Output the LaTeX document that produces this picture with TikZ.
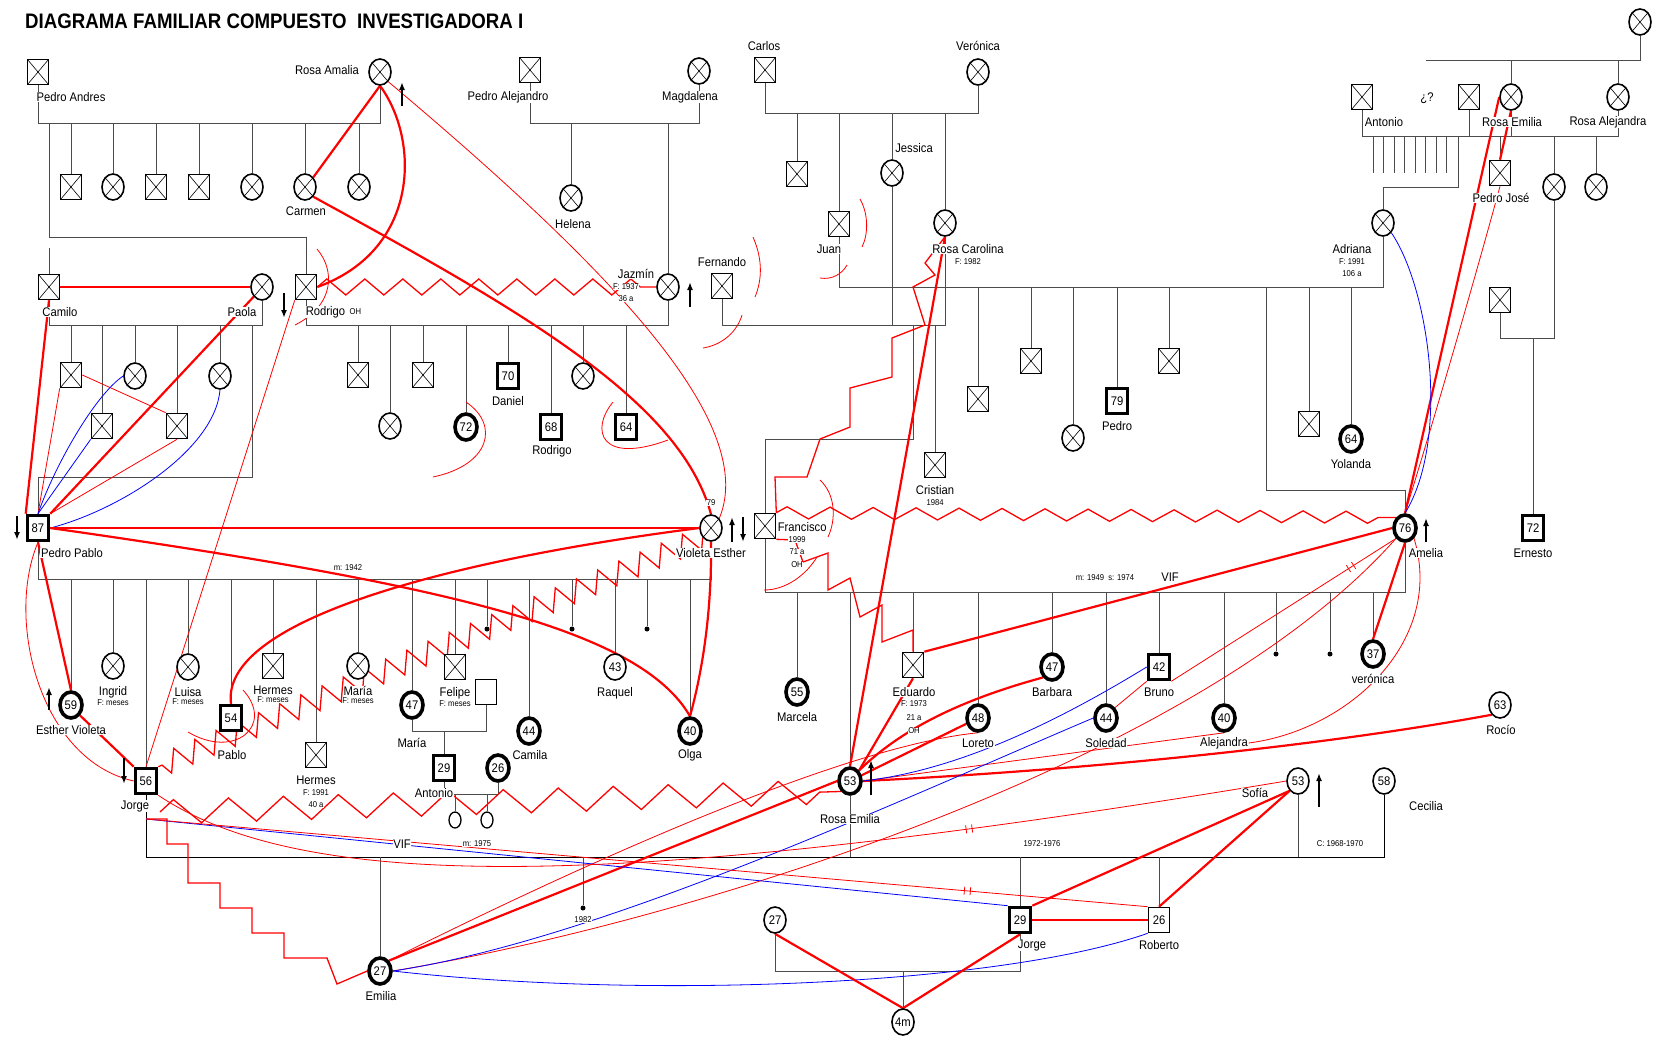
\documentclass[tikz,border=0pt]{standalone}
\usepackage{fontspec}
\setmainfont{Liberation Sans}[FakeStretch=0.9]
\newfontfamily\titulofam{Liberation Sans}[FakeStretch=0.89]
\usetikzlibrary{arrows.meta,calc,positioning,shapes.geometric,decorations.pathmorphing,decorations.markings,backgrounds}

\newcommand\nombrefont{\fontsize{12.5}{13}\selectfont}
\newcommand\datofont{\fontsize{8.5}{9}\selectfont}
\newcommand\numfont{\fontsize{12.5}{13}\selectfont}

\begin{document}
\begin{tikzpicture}[x=1pt, y=-1pt, >=Latex,
    varon/.style={draw, rectangle, fill=white, line width=1.6pt, minimum width=21pt, minimum height=25pt, inner sep=0pt, font=\numfont},
    mujer/.style={draw, ellipse, fill=white, line width=1.6pt, minimum width=22pt, minimum height=26pt, inner sep=0pt, font=\numfont},
    muerto/.style={path picture={\draw[line width=0.6pt] (path picture bounding box.north west) -- (path picture bounding box.south east) (path picture bounding box.south west) -- (path picture bounding box.north east);}},
    grueso/.style={line width=3.6pt},
    punto/.style={circle, fill=black, inner sep=0pt, minimum size=5pt},
    nombre/.style={font=\nombrefont, fill=white, inner sep=0.6pt},
    dato/.style={font=\datofont, fill=white, inner sep=0.4pt},
    fam/.style={draw=black!70, line width=0.9pt},
    hostil/.style={draw=red, line width=2.2pt},
    tenso/.style={draw=red, line width=0.8pt},
    lejano/.style={draw=blue, line width=0.8pt},
    escalera/.style={draw=red, line width=1.3pt},
    choque/.style 2 args={draw=red, line width=1.3pt, decorate, decoration={zigzag, segment length=#1, amplitude=#2}},
    corte/.style={postaction={decorate, decoration={markings, mark=at position #1 with {\draw[red, line width=0.8pt] (-3pt,-4pt) -- (-3pt,4pt) (3pt,-4pt) -- (3pt,4pt);}}}},
    flecha/.style={-{Latex[length=8pt, width=6pt]}, line width=1.6pt},
  ]
  \useasboundingbox (0,0) rectangle (1657,1039);
  \node[anchor=west, inner sep=0pt, font={\titulofam\bfseries\fontsize{21}{21}\selectfont}] (titulo) at (25,21) {DIAGRAMA FAMILIAR COMPUESTO\ \ INVESTIGADORA I};

  % abuelos
  \node[varon, muerto] (pedroandres) at (38,72) {};
  \node[mujer, muerto] (rosaamalia) at (380,72) {};
  \node[varon, muerto] (pedroalejandro) at (530,70) {};
  \node[mujer, muerto] (magdalena) at (699,71) {};
  \node[varon, muerto] (carlos) at (765,70) {};
  \node[mujer, muerto] (veronica) at (978,72) {};
  \node[mujer, muerto] (bisabuela) at (1640,22) {};
  \node[varon, muerto] (antonio) at (1362,97) {};
  \node[varon, muerto] (pareja) at (1469,97) {};
  \node[mujer, muerto] (rosaemilia) at (1511,97) {};
  \node[mujer, muerto] (rosaalejandra) at (1618,97) {};

  % hijos de Pedro Andres y Rosa Amalia
  \node[varon, muerto] (pa1) at (71,187) {};
  \node[mujer, muerto] (pa2) at (113,187) {};
  \node[varon, muerto] (pa3) at (156,187) {};
  \node[varon, muerto] (pa4) at (199,187) {};
  \node[mujer, muerto] (pa5) at (252,187) {};
  \node[mujer, muerto] (carmen) at (305,187) {};
  \node[mujer, muerto] (pa7) at (359,187) {};
  \node[varon, muerto] (camilo) at (49,287) {};
  \node[mujer, muerto] (paola) at (262,287) {};
  \node[varon, muerto] (rodrigo) at (306,287) {};
  \node[mujer, muerto] (helena) at (571,198) {};
  \node[mujer, muerto] (jazmin) at (668,287) {};
  \node[varon, muerto] (fernando) at (722,286) {};
  \node[varon, muerto] (cv1) at (797,174) {};
  \node[varon, muerto] (juan) at (839,224) {};
  \node[mujer, muerto] (jessica) at (892,173) {};
  \node[mujer, muerto] (rosacarolina) at (945,223) {};
  \node[varon, muerto] (pedrojose) at (1500,173) {};
  \node[mujer, muerto] (ra1) at (1554,187) {};
  \node[mujer, muerto] (ra2) at (1596,187) {};
  \node[varon, muerto] (ra3) at (1500,300) {};
  \node[mujer, muerto] (adriana) at (1383,223) {};

  % hijos de Camilo y Paola
  \node[varon, muerto] (cp1) at (71,375) {};
  \node[varon, muerto] (cp2) at (102,426) {};
  \node[mujer, muerto] (cp3) at (135,376) {};
  \node[varon, muerto] (cp4) at (177,426) {};
  \node[mujer, muerto] (cp5) at (220,376) {};

  % hijos de Rodrigo y Jazmin
  \node[varon, muerto] (rj1) at (358,375) {};
  \node[mujer, muerto] (rj2) at (390,426) {};
  \node[varon, muerto] (rj3) at (423,375) {};
  \node[mujer, grueso] (rj4) at (466,427) {72};
  \node[varon, grueso] (daniel) at (508,376) {70};
  \node[varon, grueso] (rodrigob) at (551,427) {68};
  \node[mujer, muerto] (rj7) at (583,376) {};
  \node[varon, grueso] (rj8) at (626,427) {64};

  % hijos de Juan y Adriana
  \node[varon, muerto] (ja1) at (978,399) {};
  \node[varon, muerto] (ja2) at (1031,361) {};
  \node[mujer, muerto] (ja3) at (1073,438) {};
  \node[varon, grueso] (pedro) at (1117,401) {79};
  \node[varon, muerto] (ja5) at (1169,361) {};
  \node[varon, muerto] (ja6) at (1309,424) {};
  \node[mujer, grueso] (yolanda) at (1351,439) {64};
  \node[varon, muerto] (cristian) at (935,465) {};
  \node[varon, grueso] (ernesto) at (1533,528) {72};

  % parejas centrales
  \node[varon, grueso] (pedropablo) at (38,528) {87};
  \node[mujer, muerto] (violeta) at (711,528) {};
  \node[varon, muerto] (francisco) at (765,526) {};
  \node[mujer, grueso] (amelia) at (1405,528) {76};

  % hijos de Pedro Pablo y Violeta Esther
  \node[mujer, grueso] (esther) at (71,705) {59};
  \node[mujer, muerto] (ingrid) at (113,666) {};
  \node[varon, grueso] (jorge) at (146,781) {56};
  \node[mujer, muerto] (luisa) at (188,667) {};
  \node[varon, grueso] (pablo) at (231,718) {54};
  \node[varon, muerto] (hermesa) at (273,666) {};
  \node[varon, muerto] (hermesb) at (316,755) {};
  \node[mujer, muerto] (mariaa) at (358,666) {};
  \node[mujer, grueso] (mariab) at (412,705) {47};
  \node[varon, muerto] (felipe) at (455,667) {};
  \node[varon] (esposo) at (486,692) {};
  \node[punto] (pv1) at (487,629) {};
  \node[mujer, grueso] (camila) at (529,731) {44};
  \node[punto] (pv2) at (572,629) {};
  \node[mujer] (raquel) at (615,667) {43};
  \node[punto] (pv3) at (647,629) {};
  \node[mujer, grueso] (olga) at (690,731) {40};
  \node[varon, grueso] (antoniob) at (444,768) {29};
  \node[mujer, grueso] (nuera) at (498,768) {26};
  \node[mujer, line width=1.3pt, minimum width=12pt, minimum height=16pt] (k1) at (455,820) {};
  \node[mujer, line width=1.3pt, minimum width=12pt, minimum height=16pt] (k2) at (487,820) {};

  % hijos de Francisco y Amelia
  \node[mujer, grueso] (marcela) at (797,692) {55};
  \node[mujer, grueso] (rosaemiliab) at (850,781) {53};
  \node[varon, muerto] (eduardo) at (913,665) {};
  \node[mujer, grueso] (loreto) at (978,718) {48};
  \node[mujer, grueso] (barbara) at (1052,667) {47};
  \node[mujer, grueso] (soledad) at (1106,718) {44};
  \node[varon, grueso] (bruno) at (1159,667) {42};
  \node[mujer, grueso] (alejandra) at (1224,718) {40};
  \node[punto] (fa1) at (1276,654) {};
  \node[punto] (fa2) at (1330,654) {};
  \node[mujer, grueso] (veronicab) at (1373,654) {37};
  \node[mujer] (rocio) at (1500,705) {63};
  \node[mujer] (sofia) at (1298,781) {53};
  \node[mujer] (cecilia) at (1384,781) {58};

  % generacion de Jorge
  \node[mujer, grueso] (emilia) at (380,971) {27};
  \node[punto] (jh1) at (583,908) {};
  \node[varon, grueso] (jorgeb) at (1020,920) {29};
  \node[varon] (roberto) at (1159,920) {26};
  \node[mujer] (pareja27) at (775,920) {27};
  \node[mujer] (bebe) at (903,1022) {4m};
  \coordinate (jorgebase) at (146,819);
  \coordinate (jorgezz) at (160,812);

  % nombres
  \node[nombre] (lpedroandres) at (71,97) {Pedro Andres};
  \node[nombre] (lrosaamalia) at (327,70) {Rosa Amalia};
  \node[nombre] (lcarmen) at (306,211) {Carmen};
  \node[nombre] (lcamilo) at (60,312) {Camilo};
  \node[nombre] (lpaola) at (242,312) {Paola};
  \node[nombre, anchor=west] (lrodrigo) at (305,312) {Rodrigo};
  \node[dato, right=3pt of lrodrigo] (lrodrigooh) {OH};
  \node[nombre] (lpedroalejandro) at (508,97) {Pedro Alejandro};
  \node[nombre] (lmagdalena) at (690,97) {Magdalena};
  \node[nombre] (lhelena) at (573,224) {Helena};
  \node[nombre] (ljazmin) at (636,274) {Jazmín};
  \node[dato] (ljazmin1) at (626,287) {F: 1937};
  \node[dato] (ljazmin2) at (626,299) {36 a};
  \node[nombre] (lfernando) at (722,262) {Fernando};
  \node[nombre] (lcarlos) at (764,46) {Carlos};
  \node[nombre] (lveronica) at (978,46) {Verónica};
  \node[nombre] (ljessica) at (914,148) {Jessica};
  \node[nombre] (ljuan) at (829,249) {Juan};
  \node[nombre] (lrosacarolina) at (968,249) {Rosa Carolina};
  \node[dato] (lrosacarolina1) at (968,262) {F: 1982};
  \node[nombre] (lantonio) at (1384,122) {Antonio};
  \node[nombre] (lduda) at (1427,98) {¿?};
  \node[nombre] (lrosaemilia) at (1512,122) {Rosa Emilia};
  \node[nombre] (lrosaalejandra) at (1608,122) {Rosa Alejandra};
  \node[nombre] (lpedrojose) at (1501,198) {Pedro José};
  \node[nombre] (ladriana) at (1352,249) {Adriana};
  \node[dato] (ladriana1) at (1352,262) {F: 1991};
  \node[dato] (ladriana2) at (1352,274) {106 a};
  \node[nombre] (ldaniel) at (508,401) {Daniel};
  \node[nombre] (lrodrigob) at (552,451) {Rodrigo};
  \node[nombre] (lpedro) at (1117,426) {Pedro};
  \node[nombre] (lyolanda) at (1351,464) {Yolanda};
  \node[nombre] (lcristian) at (935,490) {Cristian};
  \node[dato] (lcristian1) at (935,503) {1984};
  \node[nombre, anchor=west] (lfrancisco) at (777,527) {Francisco};
  \node[dato] (lfrancisco1) at (797,540) {1999};
  \node[dato] (lfrancisco2) at (797,552) {71 a};
  \node[dato] (lfrancisco3) at (797,565) {OH};
  \node[nombre] (lamelia) at (1426,553) {Amelia};
  \node[nombre] (lernesto) at (1533,553) {Ernesto};
  \node[nombre] (lpedropablo) at (72,553) {Pedro Pablo};
  \node[dato] (lvioleta1) at (711,503) {79};
  \node[nombre] (lvioleta) at (711,553) {Violeta Esther};
  \node[dato] (lmatri1) at (348,568) {m: 1942};
  \node[dato] (lmatri2) at (1105,578) {m: 1949\ \ s: 1974};
  \node[nombre] (lvif1) at (1170,577) {VIF};
  \node[nombre] (lesther) at (71,730) {Esther Violeta};
  \foreach \h/\n in {ingrid/Ingrid, luisa/Luisa, hermesa/Hermes, mariaa/María, felipe/Felipe} {
    \node[nombre, below=6pt of \h] (l\h) {\n};
    \node[dato, below=0pt of l\h] (f\h) {F: meses};
  }
  \node[nombre] (lpablo) at (232,755) {Pablo};
  \node[nombre] (lhermesb) at (316,780) {Hermes};
  \node[dato] (lhermesb1) at (316,793) {F: 1991};
  \node[dato] (lhermesb2) at (316,805) {40 a};
  \node[nombre] (lmariab) at (412,743) {María};
  \node[nombre] (lantoniob) at (434,793) {Antonio};
  \node[nombre] (lcamila) at (530,755) {Camila};
  \node[nombre] (lraquel) at (615,693) {Raquel};
  \node[nombre] (lolga) at (690,755) {Olga};
  \node[nombre] (lmarcela) at (797,717) {Marcela};
  \node[nombre] (leduardo) at (914,692) {Eduardo};
  \node[dato] (leduardo1) at (914,704) {F: 1973};
  \node[dato] (leduardo2) at (914,718) {21 a};
  \node[dato] (leduardo3) at (914,731) {OH};
  \node[nombre] (lbarbara) at (1052,692) {Barbara};
  \node[nombre] (lbruno) at (1159,692) {Bruno};
  \node[nombre] (lloreto) at (978,743) {Loreto};
  \node[nombre] (lsoledad) at (1106,743) {Soledad};
  \node[nombre] (lalejandra) at (1224,743) {Alejandra};
  \node[nombre] (lveronicab) at (1373,679) {verónica};
  \node[nombre] (lrocio) at (1501,730) {Rocío};
  \node[nombre] (lrosaemiliab) at (850,819) {Rosa Emilia};
  \node[nombre] (ljorge) at (135,806) {Jorge};
  \node[nombre] (lsofia) at (1255,793) {Sofía};
  \node[nombre] (lcecilia) at (1426,806) {Cecilia};
  \node[dato] (lcasados) at (1340,844) {C: 1968-1970};
  \node[nombre] (lvif2) at (402,844) {VIF};
  \node[dato] (lmatri3) at (477,844) {m: 1975};
  \node[dato] (lperiodo) at (1042,844) {1972-1976};
  \node[dato] (lanio) at (583,920) {1982};
  \node[nombre] (ljorgeb) at (1032,945) {Jorge};
  \node[nombre] (lroberto) at (1159,945) {Roberto};
  \node[nombre] (lemilia) at (381,996) {Emilia};

  % flechas de ingreso / salida
  \draw[flecha] ($(rosaamalia)+(22,34)$) -- ++(0,-24);
  \draw[flecha] ($(rodrigo)+(-22,6)$) -- ++(0,25);
  \draw[flecha] ($(jazmin)+(22,20)$) -- ++(0,-25);
  \draw[flecha] ($(pedropablo)+(-21,-12)$) -- ++(0,24);
  \draw[flecha] ($(violeta)+(21,14)$) -- ++(0,-25);
  \draw[flecha] ($(violeta)+(32,-11)$) -- ++(0,25);
  \draw[flecha] ($(amelia)+(21,14)$) -- ++(0,-24);
  \draw[flecha] ($(esther)+(-22,5)$) -- ++(0,-23);
  \draw[flecha] ($(jorge)+(-22,-23)$) -- ++(0,26);
  \draw[flecha] ($(rosaemiliab)+(21,14)$) -- ++(0,-35);
  \draw[flecha] ($(sofia)+(21,26)$) -- ++(0,-34);

  \begin{scope}[on background layer]
    % lineas de parentesco
    \coordinate (bus1) at (0,123);
    \coordinate (bus2) at (0,325);
    \coordinate (bus3) at (0,113);
    \coordinate (bus4) at (0,287);
    \coordinate (bus5) at (0,136);
    \coordinate (bus6) at (0,60);
    \coordinate (bus7) at (0,579);
    \coordinate (bus8) at (0,731);
    \coordinate (bus9) at (0,794);
    \coordinate (bus10) at (0,592);
    \coordinate (bus11) at (0,857);
    \coordinate (bus12) at (0,971);
    \draw[fam] (pedroandres.south) -- (pedroandres.south |- bus1) -- (rosaamalia.south |- bus1) -- (rosaamalia.south);
    \foreach \h in {pa1,pa2,pa3,pa4,pa5,carmen,pa7}
      \draw[fam] (\h.north) -- (\h.north |- bus1);
    \draw[fam] (49,123) -- (49,237) -| (rodrigo.north);
    \draw[fam] (camilo.north) -- ++(0,-26);
    \draw[fam] (camilo.south) -- (camilo.south |- bus2) -- (paola.south |- bus2) -- (paola.south);
    \foreach \h in {cp1,cp2,cp3,cp4,cp5}
      \draw[fam] (\h.north) -- (\h.north |- bus2);
    \draw[fam] (252,325) -- (252,477) -| (pedropablo.north);
    \draw[fam] (pedroalejandro.south) -- (pedroalejandro.south |- bus1) -- (magdalena.south |- bus1) -- (magdalena.south);
    \draw[fam] (helena.north) -- (helena.north |- bus1);
    \draw[fam] (jazmin.north) -- (jazmin.north |- bus1);
    \draw[fam] (jazmin.south) -- (jazmin.south |- bus2) -- (rodrigo.south |- bus2) -- (rodrigo.south);
    \foreach \h in {rj1,rj2,rj3,rj4,daniel,rodrigob,rj7,rj8}
      \draw[fam] (\h.north) -- (\h.north |- bus2);
    \draw[fam] (carlos.south) -- (carlos.south |- bus3) -- (veronica.south |- bus3) -- (veronica.south);
    \foreach \h in {cv1,juan,jessica,rosacarolina}
      \draw[fam] (\h.north) -- (\h.north |- bus3);
    \draw[fam] (jessica.south) -- (jessica.south |- bus2);
    \draw[fam] (rosacarolina.south) -- (rosacarolina.south |- bus2) -- (fernando.south |- bus2) -- (fernando.south);
    \draw[fam] (cristian.north) -- (cristian.north |- bus2);
    \draw[fam] (913,325) -- (913,439) -| (francisco.north);
    \draw[fam] (juan.south) -- (juan.south |- bus4) -- (adriana.south |- bus4) -- (adriana.south);
    \foreach \h in {ja1,ja2,ja3,pedro,ja5,ja6,yolanda}
      \draw[fam] (\h.north) -- (\h.north |- bus4);
    \draw[fam] (1266,287) -- (1266,490) -| (amelia.north);
    \draw[fam] (antonio.south) -- (antonio.south |- bus5) -- (rosaalejandra.south |- bus5) -- (rosaalejandra.south);
    \foreach \h in {pareja,rosaemilia}
      \draw[fam] (\h.south) -- (\h.south |- bus5);
    \foreach \h in {pedrojose,ra1,ra2}
      \draw[fam] (\h.north) -- (\h.north |- bus5);
    \foreach \i in {0,...,7}
      \draw[fam] ({1373+10.5*\i},136) -- ++(0,37);
    \draw[fam] (1458,136) -- (1458,187) -| (adriana.north);
    \draw[fam] (ra1.south) -- (1554,338) -| (ra3.south);
    \draw[fam] (1533,338) -- (ernesto.north);
    \draw[fam] (bisabuela.south) -- (bisabuela.south |- bus6) -- (1426,60);
    \foreach \h in {rosaemilia,rosaalejandra}
      \draw[fam] (\h.north) -- (\h.north |- bus6);
    \draw[fam] (pedropablo.south) -- (pedropablo.south |- bus7) -- (violeta.south |- bus7) -- (violeta.south);
    \foreach \h in {esther,ingrid,jorge,luisa,pablo,hermesa,hermesb,mariaa,mariab,felipe,pv1,camila,pv2,raquel,pv3,olga}
      \draw[fam] (\h.north) -- (\h.north |- bus7);
    \draw[fam] (mariab.south) -- (mariab.south |- bus8) -- (esposo.south |- bus8) -- (esposo.south);
    \draw[fam] (antoniob.north) -- (antoniob.north |- bus8);
    \draw[fam] (antoniob.south) -- (antoniob.south |- bus9) -- (nuera.south |- bus9) -- (nuera.south);
    \foreach \h in {k1,k2}
      \draw[fam] (\h.north) -- (\h.north |- bus9);
    \draw[fam] (francisco.south) -- (francisco.south |- bus10) -- (amelia.south |- bus10) -- (amelia.south);
    \foreach \h in {marcela,rosaemiliab,eduardo,loreto,barbara,soledad,bruno,alejandra,fa1,fa2,veronicab}
      \draw[fam] (\h.north) -- (\h.north |- bus10);
    \draw[fam, draw=black] (jorge.south) -- (jorge.south |- bus11) -- (cecilia.south |- bus11) -- (cecilia.south);
    \foreach \h in {rosaemiliab,sofia}
      \draw[fam] (\h.south) -- (\h.south |- bus11);
    \foreach \h in {emilia,jh1,jorgeb,roberto}
      \draw[fam] (\h.north) -- (\h.north |- bus11);
    \draw[fam] (pareja27.south) -- (pareja27.south |- bus12) -- (jorgeb.south |- bus12) -- (jorgeb.south);
    \draw[fam] (bebe.north) -- (bebe.north |- bus12);

    % vinculos emocionales
    \draw[hostil] (rosaamalia.south) -- (carmen.north east);
    \draw[hostil] (rosaamalia.south) .. controls (420,140) and (420,250) .. (rodrigo.east);
    \draw[tenso] (rosaamalia.south east) .. controls (600,260) and (760,420) .. (violeta.north east);
    \draw[hostil] (carmen.south east) .. controls (520,310) and (680,400) .. (violeta.north);
    \draw[choque={38pt}{8pt}] (rodrigo.east) -- (jazmin.west);
    \draw[hostil] (camilo) -- (paola);
    \draw[hostil] (camilo.south) -- (pedropablo.north west);
    \draw[hostil] (paola.south west) -- (pedropablo.north east);
    \draw[tenso] (rodrigo.south west) -- (jorge.north);
    \draw[tenso] (cp1.east) -- (cp4.north west);
    \draw[tenso] (cp1.south west) -- (pedropablo.north);
    \draw[tenso] (cp4.south) -- (pedropablo.north east);
    \draw[lejano] (cp2.south west) -- (pedropablo.north);
    \draw[lejano] (cp3.west) .. controls (95,395) and (55,465) .. (pedropablo.north);
    \draw[lejano] (cp5.south) .. controls (215,450) and (120,510) .. (pedropablo.east);
    \draw[hostil] (pedropablo) -- (violeta);
    \draw[hostil] (pedropablo.east) .. controls (450,585) and (640,630) .. (olga.north);
    \draw[hostil] (violeta.south) .. controls (712,620) and (700,680) .. (olga.north);
    \draw[hostil] (violeta.west) .. controls (450,560) and (220,620) .. (pablo.north);
    \draw[choque={23pt}{11pt}] (violeta.south west) -- (jorge.north east);
    \draw[hostil] (pedropablo.south) -- (esther.north);
    \draw[hostil] (esther.south east) -- (jorge.north west);
    \draw[tenso] (pedropablo.south) .. controls (5,620) and (40,760) .. (jorge.west);
    \draw[tenso] (188,732) .. controls (235,760) and (275,725) .. (243,690);
    \draw[escalera] (rosacarolina.south) -- (925,263) -- (935,275) -- (913,287) -- (925,325) -- (892,338) -- (892,377) -- (850,388) -- (850,427) -- (820,439) -- (807,477) -- (775,477) -- (francisco.north east);
    \draw[hostil] (rosacarolina.south) -- (rosaemiliab.north);
    \draw[choque={43pt}{6pt}] (francisco.north east) -- (amelia.north west);
    \draw[escalera] (francisco.south east) -- (795,540) -- (803,562) -- (828,553) -- (828,590) -- (850,578) -- (860,617) -- (882,605) -- (882,642) -- (913,630) -- (eduardo.north);
    \draw[hostil] (amelia.west) -- (eduardo.north east);
    \draw[hostil] (amelia.south) -- (veronicab.north);
    \draw[hostil] (amelia.north) -- (rosaemilia.west);
    \draw[hostil] (rosaemilia.south) -- (pedrojose.north);
    \draw[tenso] (amelia.north) .. controls (1440,400) and (1480,260) .. (pedrojose.south);
    \draw[lejano] (adriana.south east) .. controls (1430,290) and (1450,440) .. (amelia.north);
    \draw[tenso, corte=0.2] (amelia.south west) -- (bruno.south east);
    \draw[tenso] (amelia.south west) .. controls (1200,760) and (700,920) .. (emilia.east);
    \draw[tenso] (amelia.south east) .. controls (1445,640) and (1350,730) .. (lalejandra.east);
    \draw[hostil] (rosaemiliab) -- (loreto);
    \draw[hostil] (barbara.south west) .. controls (960,700) and (900,730) .. (rosaemiliab.north east);
    \draw[hostil] (eduardo.south) -- (rosaemiliab.north east);
    \draw[hostil] (rosaemiliab.east) .. controls (1050,772) and (1300,750) .. (rocio.south west);
    \draw[tenso] (rosaemiliab.east) -- (alejandra.south);
    \draw[lejano] (bruno.west) .. controls (1060,720) and (960,770) .. (rosaemiliab.east);
    \draw[tenso] (soledad.north east) -- (bruno.south west);
    \draw[lejano] (soledad.west) .. controls (900,800) and (600,940) .. (emilia.east);
    \draw[hostil] (emilia.north east) -- (rosaemiliab.west);
    \draw[tenso] (emilia.north east) .. controls (600,855) and (850,745) .. (loreto.south);
    \draw[lejano] (emilia.east) .. controls (650,1000) and (1000,985) .. (roberto.south west);
    \draw[escalera] (jorgebase) -- (167,819) -- (167,844) -- (188,844) -- (188,883) -- (220,883) -- (220,908) -- (252,908) -- (252,933) -- (284,933) -- (284,958) -- (327,958) -- (337,984) -- (emilia.west);
    \draw[choque={55pt}{12pt}] (jorgezz) -- (rosaemiliab.south west);
    \draw[lejano] (jorgebase) -- (jorgeb.north west);
    \draw[tenso, corte=0.82] (jorgebase) -- (roberto.north west);
    \draw[tenso, corte=0.72] (jorge.south east) .. controls (300,890) and (600,895) .. (sofia.west);
    \draw[hostil] (sofia.south west) -- (jorgeb.north east);
    \draw[hostil] (sofia.south west) -- (roberto.north);
    \draw[hostil] (jorgeb) -- (roberto);
    \draw[hostil] (jorgeb.south) -- (bebe.north);
    \draw[hostil] (pareja27.south) -- (bebe.north);

    % cortes
    \draw[tenso] (317,249) .. controls (335,270) and (335,305) .. (295,325);
    \draw[tenso] (466,402) .. controls (500,425) and (490,465) .. (433,477);
    \draw[tenso] (613,402) .. controls (590,430) and (600,465) .. (668,440);
    \draw[tenso] (753,237) .. controls (763,260) and (762,280) .. (755,297);
    \draw[tenso] (703,348) .. controls (722,345) and (737,332) .. (742,315);
    \draw[tenso] (860,199) .. controls (869,215) and (868,235) .. (862,247);
    \draw[tenso] (820,278) .. controls (832,280) and (842,274) .. (847,265);
    \draw[tenso] (820,480) .. controls (836,495) and (836,520) .. (828,537);
    \draw[tenso] (764,590) .. controls (786,590) and (806,575) .. (817,557);
  \end{scope}
\end{tikzpicture}
\end{document}
